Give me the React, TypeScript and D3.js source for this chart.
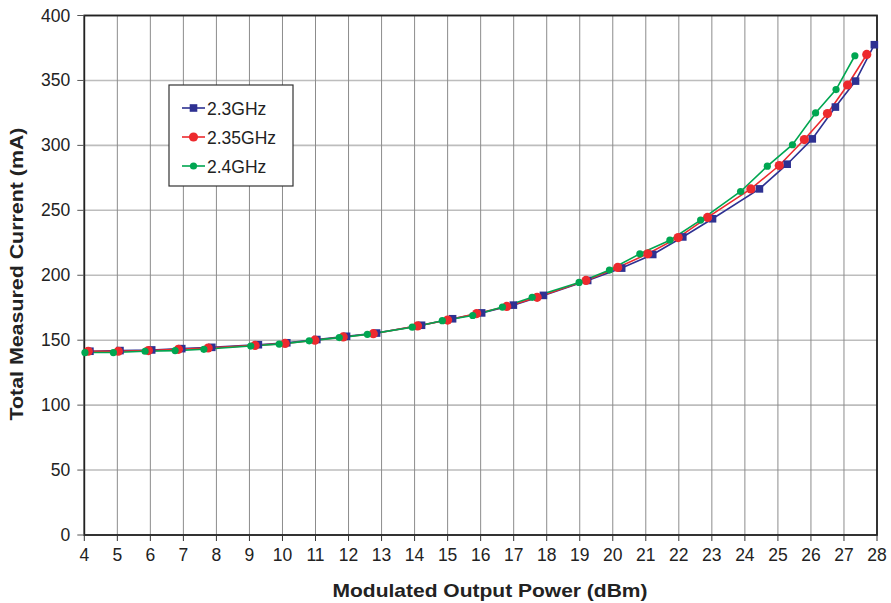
import React from "react";
import * as d3 from "d3";

const xTicks = d3.range(4, 29, 1);
const yTicks = d3.range(0, 401, 50);

const x23 = [4.17, 5.08, 6.04, 6.95, 7.86, 9.27, 10.13, 11.04, 11.94, 12.85, 14.21, 15.15, 16.03, 16.99, 17.9, 19.24, 20.27, 21.21, 22.12, 23.02, 24.44, 25.28, 26.04, 26.74, 27.35, 27.92];
const y23 = [141.5, 142, 142.5, 143.5, 144.5, 146.5, 148, 150.5, 153, 155.5, 161.5, 166.5, 171, 177, 184.5, 196, 205.5, 216, 229.5, 243.5, 266.5, 285.5, 305, 329.5, 349.5, 377.5];
const x235 = [4.12, 5.03, 5.94, 6.85, 7.75, 9.17, 10.08, 10.98, 11.84, 12.75, 14.09, 15.0, 15.88, 16.79, 17.71, 19.19, 20.15, 21.06, 21.98, 22.87, 24.18, 25.04, 25.8, 26.5, 27.11, 27.69];
const y235 = [141.5, 141.5, 142, 143, 144, 146, 147.5, 150, 152.5, 155, 161, 165.5, 170.5, 176, 183, 196, 206, 216.5, 229, 244.5, 266.5, 284.5, 304.5, 324.5, 346.5, 370];
const x24 = [4.02, 4.88, 5.84, 6.75, 7.62, 9.04, 9.9, 10.81, 11.72, 12.57, 13.93, 14.84, 15.76, 16.66, 17.56, 18.98, 19.9, 20.82, 21.73, 22.66, 23.87, 24.68, 25.44, 26.14, 26.76, 27.33];
const y24 = [140.5, 140.5, 141.5, 142, 143, 145.5, 147, 149.5, 152, 154.5, 160, 165, 169, 175.5, 183, 194.5, 204, 216.5, 227, 242.5, 264.5, 284, 300.5, 325, 343, 369];

const seriesNames = ["2.3GHz", "2.35GHz", "2.4GHz"];
const seriesColors = ["#2e3192", "#ed2a2e", "#00a651"];

export default function App() {
  const W = 891, H = 603;
  const L = 84.3, R = 877, T = 15.5, B = 535;
  const x = d3.scaleLinear().domain([4, 28]).range([L, R]);
  const y = d3.scaleLinear().domain([0, 400]).range([B, T]);
  const line = d3.line<[number, number]>().x(d => x(d[0])).y(d => y(d[1]));
  const series = [
    d3.zip(x23, y23) as [number, number][],
    d3.zip(x235, y235) as [number, number][],
    d3.zip(x24, y24) as [number, number][],
  ];
  const font = "Arial, 'Liberation Sans', Helvetica, sans-serif";

  const marker = (i: number, cx: number, cy: number, key: any) => {
    if (i === 0) return <rect key={key} x={cx - 3.8} y={cy - 3.8} width={7.6} height={7.6} fill={seriesColors[0]} />;
    if (i === 1) return <circle key={key} cx={cx} cy={cy} r={4.6} fill={seriesColors[1]} />;
    return <circle key={key} cx={cx} cy={cy} r={3.6} fill={seriesColors[2]} />;
  };

  return (
    <svg width={W} height={H} style={{ position: "absolute", left: 0, top: 0, background: "#fff" }} fontFamily={font}>
      {yTicks.map(t => (
        <line key={"hg" + t} x1={L} x2={R} y1={y(t)} y2={y(t)} stroke="#bdbdbd" strokeWidth={1.6} />
      ))}
      {xTicks.map(t => (
        <line key={"vg" + t} x1={x(t)} x2={x(t)} y1={T} y2={B} stroke="#8c8c8c" strokeWidth={1} />
      ))}
      <rect x={L} y={T} width={R - L} height={B - T} fill="none" stroke="#222" strokeWidth={1.8} />
      {yTicks.map(t => (
        <g key={"yt" + t}>
          <line x1={L - 7} x2={L} y1={y(t)} y2={y(t)} stroke="#555" strokeWidth={1} />
          <text x={L - 14} y={y(t) + 6} textAnchor="end" fontSize={17.5} fill="#222">{t}</text>
        </g>
      ))}
      {xTicks.map(t => (
        <g key={"xt" + t}>
          <line x1={x(t)} x2={x(t)} y1={B} y2={B + 6} stroke="#333" strokeWidth={1} />
          <text x={x(t)} y={B + 26} textAnchor="middle" fontSize={17.5} fill="#222">{t}</text>
        </g>
      ))}
      {series.map((s, i) => (
        <path key={"l" + i} d={line(s) || ""} fill="none" stroke={seriesColors[i]} strokeWidth={1.6} />
      ))}
      {series.map((s, i) => s.map((p, j) => marker(i, x(p[0]), y(p[1]), "m" + i + "-" + j)))}
      <rect x={169} y={85} width={124} height={101} fill="#fff" stroke="#333" strokeWidth={1.2} />
      {seriesNames.map((n, i) => {
        const ly = 108 + i * 29;
        return (
          <g key={"lg" + i}>
            <line x1={182} x2={205} y1={ly} y2={ly} stroke={seriesColors[i]} strokeWidth={1.6} />
            {marker(i, 193.5, ly, "lm" + i)}
            <text x={207} y={ly + 6.5} fontSize={17.5} fill="#222">{n}</text>
          </g>
        );
      })}
      <text x={490} y={597} textAnchor="middle" fontSize={19} fontWeight="bold" fill="#222" textLength={315} lengthAdjust="spacingAndGlyphs">Modulated Output Power (dBm)</text>
      <text transform={`translate(23, 274) rotate(-90)`} textAnchor="middle" fontSize={19} fontWeight="bold" fill="#222" textLength={293} lengthAdjust="spacingAndGlyphs">Total Measured Current (mA)</text>
    </svg>
  );
}
